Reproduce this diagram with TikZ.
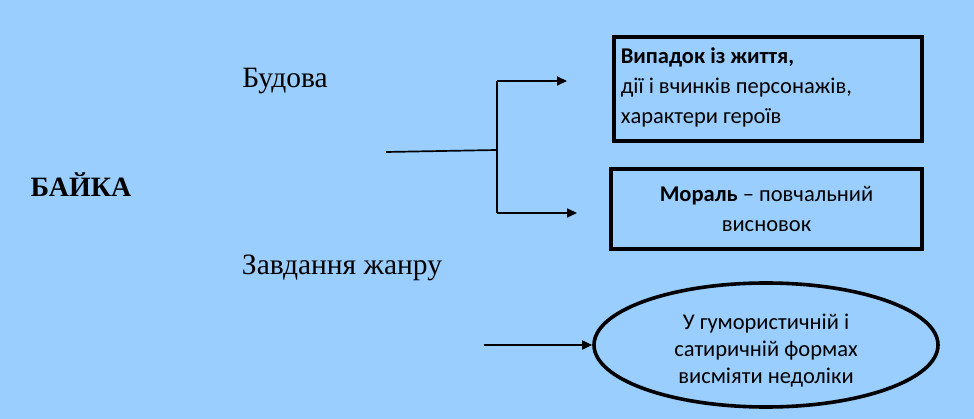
\documentclass[tikz,border=0pt]{standalone}
\usepackage{fontspec}
\setmainfont{Liberation Serif}
\newfontfamily\boxfont{Carlito}
\usepackage{xcolor}
\usetikzlibrary{arrows.meta, positioning, shapes.geometric}
\definecolor{bgblue}{RGB}{153,206,255}

\begin{document}
\begin{tikzpicture}[x=1pt,y=-1pt,>={Triangle[length=10pt,width=9pt]}]
  \tikzstyle{every node}=[inner sep=0pt]
  \tikzstyle{frame}=[draw, line width=3.6pt, font=\boxfont\fontsize{22.5}{30}\selectfont]
  \tikzstyle{title}=[font=\fontsize{29.5}{32}\selectfont]
  \tikzstyle{link}=[line width=1.7pt]

  \fill[bgblue] (0,0) rectangle (974,419);
  \useasboundingbox (0,0) rectangle (974,419);

  \node[title, font=\bfseries\fontsize{28}{32}\selectfont](fable) at (81,185){БАЙКА};
  \node[title](structure) at (285,81){Будова};
  \node[title](task) at (342,268){Завдання жанру};

  \node[frame, minimum width=308pt, minimum height=104pt](event) at (768,89){};
  \node[frame, draw=none, align=left, anchor=west](eventtext) at (619,87)
    {\textbf{Випадок із життя,}\\дії і вчинків персонажів,\\характери героїв};
  \node[frame, minimum width=311pt, minimum height=80pt, align=center](moral) at (766.5,209)
    {\textbf{Мораль} – повчальний\\висновок};
  \node[frame, ellipse, minimum width=344pt, minimum height=124pt](mock) at (766,345){};
  \node[frame, draw=none, align=center, font=\boxfont\fontsize{22.5}{27}\selectfont](mocktext) at (766,351)
    {У гумористичній і\\сатиричній формах\\висміяти недоліки};

  \coordinate (from) at (386,152);
  \coordinate (fork) at (497,150);
  \coordinate (top) at (497,81);
  \coordinate (bottom) at (497,213);
  \coordinate (from2) at (484,345);

  \draw[link] (from) -- (fork);
  \draw[link] (top) -- (bottom);
  \draw[link,->] (top) -- (567,81);
  \draw[link,->] (bottom) -- (577,213);
  \draw[link,->] (from2) -- (mock.west);
\end{tikzpicture}
\end{document}
